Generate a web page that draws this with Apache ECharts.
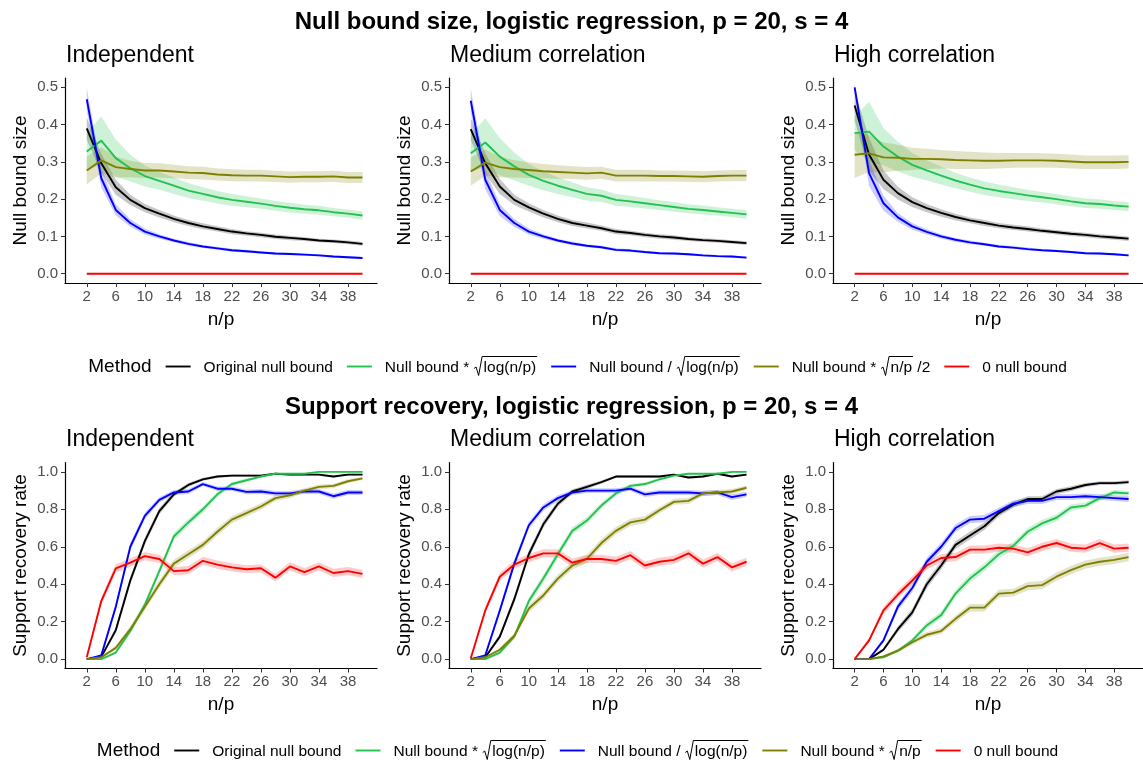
<!DOCTYPE html>
<html>
<head>
<meta charset="utf-8">
<script src="https://cdn.jsdelivr.net/npm/echarts@6/dist/echarts.min.js"></script>
<style>
  html, body { margin: 0; padding: 0; background: #fff; }
  #chart { width: 1143px; height: 763px; }
</style>
</head>
<body>
<div id="chart"></div>
<script>
// ---- sample sizes (n/p) ----
const nOverP = [2,4,6,8,10,12,14,16,18,20,22,24,26,28,30,32,34,36,38,40];
const xTicks = [2,6,10,14,18,22,26,30,34,38];
const sizeTicks = [0,0.1,0.2,0.3,0.4,0.5];
const rateTicks = [0,0.2,0.4,0.6,0.8,1.0];

const methodNames = ['Original null bound','Null bound * sqrt(log(n/p))','Null bound / sqrt(log(n/p))','Null bound * sqrt(n/p)','0 null bound'];
const methodColors = ['#000000','#22C24F','#0000FF','#7F7F00','#FF0000'];
const methodFills = ['rgba(0,0,0,0.22)','rgba(34,194,79,0.22)','rgba(0,0,255,0.2)','rgba(127,127,0,0.22)','rgba(255,0,0,0.2)'];

// ---- Null bound size: Independent ----
const sizeIndOrig    = [0.390,0.296,0.232,0.198,0.176,0.161,0.147,0.136,0.127,0.120,0.113,0.108,0.104,0.099,0.096,0.093,0.089,0.087,0.084,0.080];
const sizeIndLogUp   = [0.328,0.357,0.310,0.283,0.262,0.249,0.236,0.223,0.214,0.205,0.198,0.193,0.188,0.182,0.177,0.173,0.170,0.165,0.161,0.156];
const sizeIndLogDown = [0.468,0.256,0.171,0.136,0.113,0.100,0.089,0.080,0.073,0.068,0.063,0.060,0.057,0.054,0.053,0.051,0.049,0.046,0.044,0.042];
const sizeIndSqrt    = [0.277,0.304,0.286,0.281,0.277,0.277,0.274,0.271,0.270,0.266,0.264,0.263,0.263,0.261,0.259,0.260,0.260,0.261,0.258,0.258];
const sizeIndZero    = [0,0,0,0,0,0,0,0,0,0,0,0,0,0,0,0,0,0,0,0];
const sizeIndOrigCI    = [0.030,0.026,0.020,0.014,0.011,0.010,0.009,0.008,0.008,0.007,0.007,0.006,0.006,0.006,0.006,0.005,0.005,0.005,0.005,0.005];
const sizeIndLogUpCI   = [0.050,0.065,0.050,0.036,0.028,0.024,0.022,0.020,0.018,0.017,0.016,0.015,0.014,0.013,0.013,0.012,0.012,0.011,0.011,0.011];
const sizeIndLogDownCI = [0.030,0.025,0.015,0.010,0.008,0.006,0.005,0.005,0.004,0.004,0.004,0.004,0.003,0.003,0.003,0.003,0.003,0.003,0.003,0.003];
const sizeIndSqrtCI    = [0.037,0.035,0.028,0.022,0.020,0.019,0.018,0.017,0.017,0.016,0.016,0.016,0.016,0.015,0.015,0.015,0.015,0.015,0.015,0.015];
const sizeIndZeroCI    = [0,0,0,0,0,0,0,0,0,0,0,0,0,0,0,0,0,0,0,0];

// ---- Null bound size: Medium correlation ----
const sizeMedOrig    = [0.388,0.296,0.234,0.198,0.178,0.161,0.147,0.136,0.129,0.122,0.113,0.109,0.104,0.100,0.097,0.093,0.090,0.088,0.085,0.082];
const sizeMedLogUp   = [0.323,0.352,0.314,0.288,0.265,0.249,0.236,0.225,0.214,0.209,0.198,0.194,0.189,0.184,0.179,0.174,0.171,0.167,0.163,0.159];
const sizeMedLogDown = [0.464,0.252,0.171,0.136,0.113,0.100,0.089,0.081,0.075,0.071,0.064,0.062,0.058,0.055,0.054,0.052,0.049,0.047,0.046,0.043];
const sizeMedSqrt    = [0.274,0.298,0.286,0.281,0.278,0.275,0.273,0.271,0.269,0.271,0.263,0.263,0.263,0.262,0.262,0.261,0.260,0.262,0.263,0.263];
const sizeMedZero    = [0,0,0,0,0,0,0,0,0,0,0,0,0,0,0,0,0,0,0,0];
const sizeMedOrigCI    = [0.030,0.027,0.020,0.014,0.011,0.010,0.009,0.008,0.008,0.007,0.007,0.006,0.006,0.006,0.006,0.005,0.005,0.005,0.005,0.005];
const sizeMedLogUpCI   = [0.050,0.065,0.050,0.037,0.029,0.025,0.022,0.020,0.018,0.017,0.016,0.015,0.014,0.013,0.013,0.012,0.012,0.011,0.011,0.011];
const sizeMedLogDownCI = [0.032,0.026,0.016,0.011,0.008,0.006,0.005,0.005,0.004,0.004,0.004,0.004,0.003,0.003,0.003,0.003,0.003,0.003,0.003,0.003];
const sizeMedSqrtCI    = [0.038,0.035,0.028,0.023,0.021,0.019,0.018,0.017,0.017,0.016,0.016,0.016,0.016,0.015,0.015,0.015,0.015,0.015,0.015,0.015];
const sizeMedZeroCI    = [0,0,0,0,0,0,0,0,0,0,0,0,0,0,0,0,0,0,0,0];

// ---- Null bound size: High correlation ----
const sizeHighOrig    = [0.451,0.320,0.252,0.216,0.192,0.176,0.163,0.152,0.143,0.136,0.129,0.124,0.120,0.115,0.111,0.107,0.104,0.100,0.097,0.094];
const sizeHighLogUp   = [0.377,0.381,0.341,0.314,0.292,0.277,0.263,0.250,0.239,0.229,0.222,0.216,0.210,0.205,0.200,0.194,0.189,0.187,0.183,0.180];
const sizeHighLogDown = [0.500,0.270,0.189,0.151,0.127,0.112,0.100,0.091,0.084,0.079,0.073,0.070,0.066,0.063,0.061,0.058,0.055,0.054,0.052,0.049];
const sizeHighSqrt    = [0.319,0.323,0.312,0.311,0.308,0.308,0.307,0.305,0.304,0.303,0.303,0.304,0.304,0.304,0.303,0.301,0.299,0.299,0.299,0.300];
const sizeHighZero    = [0,0,0,0,0,0,0,0,0,0,0,0,0,0,0,0,0,0,0,0];
const sizeHighOrigCI    = [0.040,0.045,0.025,0.017,0.013,0.011,0.010,0.009,0.008,0.008,0.007,0.007,0.007,0.006,0.006,0.006,0.006,0.006,0.006,0.006];
const sizeHighLogUpCI   = [0.045,0.080,0.050,0.040,0.032,0.027,0.024,0.021,0.019,0.018,0.017,0.016,0.015,0.014,0.014,0.013,0.013,0.013,0.012,0.012];
const sizeHighLogDownCI = [0.010,0.035,0.020,0.012,0.009,0.007,0.006,0.005,0.005,0.004,0.004,0.004,0.004,0.003,0.003,0.003,0.003,0.003,0.003,0.003];
const sizeHighSqrtCI    = [0.062,0.050,0.040,0.035,0.030,0.027,0.025,0.024,0.023,0.022,0.021,0.020,0.020,0.019,0.019,0.019,0.018,0.018,0.018,0.018];
const sizeHighZeroCI    = [0,0,0,0,0,0,0,0,0,0,0,0,0,0,0,0,0,0,0,0];

// ---- Support recovery rate: Independent ----
const rateIndOrig    = [0.000,0.012,0.155,0.420,0.630,0.790,0.880,0.930,0.960,0.975,0.980,0.980,0.980,0.990,0.985,0.985,0.985,0.975,0.985,0.985];
const rateIndLogUp   = [0.000,0.000,0.035,0.150,0.290,0.470,0.655,0.730,0.800,0.880,0.935,0.955,0.975,0.990,0.990,0.990,1.000,1.000,1.000,1.000];
const rateIndLogDown = [0.000,0.020,0.280,0.600,0.765,0.850,0.890,0.895,0.935,0.910,0.910,0.893,0.895,0.885,0.885,0.895,0.895,0.870,0.890,0.890];
const rateIndSqrt    = [0.000,0.010,0.060,0.160,0.280,0.400,0.510,0.560,0.610,0.680,0.745,0.780,0.815,0.860,0.875,0.900,0.920,0.925,0.950,0.965];
const rateIndZero    = [0.010,0.310,0.485,0.515,0.550,0.535,0.470,0.475,0.525,0.505,0.490,0.480,0.485,0.435,0.495,0.465,0.495,0.460,0.470,0.455];
const rateIndOrigCI    = [0.000,0.005,0.015,0.020,0.020,0.017,0.013,0.011,0.008,0.007,0.006,0.006,0.006,0.005,0.005,0.005,0.005,0.006,0.005,0.005];
const rateIndLogUpCI   = [0.000,0.000,0.008,0.015,0.018,0.020,0.020,0.019,0.017,0.014,0.011,0.009,0.007,0.005,0.005,0.005,0.003,0.003,0.003,0.003];
const rateIndLogDownCI = [0.000,0.006,0.020,0.021,0.018,0.014,0.013,0.013,0.011,0.012,0.012,0.013,0.013,0.013,0.013,0.013,0.013,0.014,0.013,0.013];
const rateIndSqrtCI    = [0.000,0.004,0.011,0.016,0.019,0.021,0.021,0.021,0.020,0.020,0.019,0.018,0.017,0.015,0.014,0.013,0.012,0.012,0.010,0.008];
const rateIndZeroCI    = [0.004,0.020,0.022,0.022,0.022,0.022,0.022,0.022,0.022,0.022,0.022,0.022,0.022,0.021,0.022,0.022,0.022,0.022,0.022,0.022];

// ---- Support recovery rate: Medium correlation ----
const rateMedOrig    = [0.000,0.010,0.120,0.320,0.560,0.720,0.830,0.895,0.920,0.945,0.975,0.975,0.975,0.975,0.985,0.970,0.975,0.990,0.975,0.985];
const rateMedLogUp   = [0.000,0.000,0.035,0.120,0.310,0.430,0.560,0.685,0.740,0.820,0.885,0.925,0.935,0.960,0.980,0.990,0.990,0.990,1.000,1.000];
const rateMedLogDown = [0.000,0.020,0.260,0.510,0.715,0.810,0.860,0.890,0.900,0.900,0.900,0.910,0.880,0.890,0.890,0.890,0.885,0.890,0.865,0.880];
const rateMedSqrt    = [0.000,0.010,0.050,0.125,0.270,0.340,0.430,0.500,0.535,0.620,0.685,0.730,0.745,0.795,0.840,0.845,0.885,0.890,0.895,0.915];
const rateMedZero    = [0.005,0.260,0.440,0.505,0.540,0.565,0.565,0.515,0.535,0.535,0.525,0.555,0.500,0.520,0.530,0.565,0.510,0.545,0.490,0.520];
const rateMedOrigCI    = [0.000,0.005,0.014,0.020,0.021,0.019,0.016,0.012,0.011,0.009,0.007,0.007,0.007,0.007,0.005,0.007,0.007,0.004,0.007,0.005];
const rateMedLogUpCI   = [0.000,0.000,0.008,0.014,0.020,0.021,0.021,0.020,0.019,0.017,0.014,0.011,0.010,0.008,0.006,0.004,0.004,0.004,0.003,0.003];
const rateMedLogDownCI = [0.000,0.006,0.019,0.021,0.019,0.017,0.015,0.013,0.013,0.013,0.013,0.012,0.014,0.013,0.013,0.013,0.014,0.013,0.015,0.014];
const rateMedSqrtCI    = [0.000,0.004,0.010,0.014,0.019,0.020,0.021,0.021,0.021,0.021,0.020,0.019,0.019,0.017,0.016,0.016,0.014,0.013,0.013,0.012];
const rateMedZeroCI    = [0.003,0.019,0.021,0.022,0.022,0.022,0.022,0.022,0.022,0.022,0.022,0.022,0.022,0.022,0.022,0.022,0.022,0.022,0.022,0.022];

// ---- Support recovery rate: High correlation ----
const rateHighOrig    = [0.000,0.000,0.050,0.160,0.250,0.400,0.500,0.610,0.660,0.710,0.780,0.825,0.855,0.855,0.895,0.910,0.930,0.940,0.940,0.945];
const rateHighLogUp   = [0.000,0.000,0.010,0.045,0.100,0.180,0.235,0.350,0.430,0.490,0.560,0.605,0.680,0.725,0.755,0.810,0.820,0.860,0.890,0.885];
const rateHighLogDown = [0.000,0.000,0.100,0.280,0.380,0.520,0.600,0.700,0.745,0.750,0.790,0.830,0.845,0.845,0.865,0.865,0.870,0.865,0.860,0.855];
const rateHighSqrt    = [0.000,0.000,0.015,0.045,0.090,0.130,0.150,0.215,0.275,0.275,0.350,0.355,0.390,0.395,0.440,0.475,0.505,0.520,0.530,0.545];
const rateHighZero    = [0.000,0.100,0.260,0.345,0.420,0.500,0.540,0.545,0.585,0.585,0.595,0.590,0.570,0.600,0.620,0.595,0.590,0.620,0.590,0.595];
const rateHighOrigCI    = [0.000,0.000,0.009,0.016,0.019,0.021,0.022,0.021,0.021,0.020,0.018,0.017,0.015,0.015,0.014,0.013,0.011,0.010,0.010,0.010];
const rateHighLogUpCI   = [0.000,0.000,0.004,0.009,0.013,0.017,0.019,0.021,0.022,0.022,0.022,0.021,0.020,0.019,0.019,0.017,0.016,0.015,0.013,0.013];
const rateHighLogDownCI = [0.000,0.000,0.013,0.020,0.021,0.022,0.022,0.020,0.019,0.019,0.018,0.017,0.016,0.016,0.015,0.015,0.015,0.015,0.015,0.016];
const rateHighSqrtCI    = [0.000,0.000,0.005,0.009,0.013,0.015,0.016,0.018,0.020,0.020,0.021,0.021,0.022,0.022,0.022,0.022,0.022,0.022,0.022,0.022];
const rateHighZeroCI    = [0.000,0.013,0.019,0.021,0.022,0.022,0.022,0.022,0.022,0.022,0.022,0.022,0.022,0.022,0.022,0.022,0.022,0.022,0.022,0.022];

// ---- panel layout ----
const FONT = '"Liberation Sans", Arial, Helvetica, sans-serif';
const colLeft = [65, 449, 833];
const gridWidth = 312;
const rowTop = [78, 462.5];
const rowHeight = [205, 206];
const panelTitles = ['Independent', 'Medium correlation', 'High correlation'];

const panels = [
  { row: 0, col: 0, means: [sizeIndOrig, sizeIndLogUp, sizeIndLogDown, sizeIndSqrt, sizeIndZero], ci: [sizeIndOrigCI, sizeIndLogUpCI, sizeIndLogDownCI, sizeIndSqrtCI, sizeIndZeroCI] },
  { row: 0, col: 1, means: [sizeMedOrig, sizeMedLogUp, sizeMedLogDown, sizeMedSqrt, sizeMedZero], ci: [sizeMedOrigCI, sizeMedLogUpCI, sizeMedLogDownCI, sizeMedSqrtCI, sizeMedZeroCI] },
  { row: 0, col: 2, means: [sizeHighOrig, sizeHighLogUp, sizeHighLogDown, sizeHighSqrt, sizeHighZero], ci: [sizeHighOrigCI, sizeHighLogUpCI, sizeHighLogDownCI, sizeHighSqrtCI, sizeHighZeroCI] },
  { row: 1, col: 0, means: [rateIndOrig, rateIndLogUp, rateIndLogDown, rateIndSqrt, rateIndZero], ci: [rateIndOrigCI, rateIndLogUpCI, rateIndLogDownCI, rateIndSqrtCI, rateIndZeroCI] },
  { row: 1, col: 1, means: [rateMedOrig, rateMedLogUp, rateMedLogDown, rateMedSqrt, rateMedZero], ci: [rateMedOrigCI, rateMedLogUpCI, rateMedLogDownCI, rateMedSqrtCI, rateMedZeroCI] },
  { row: 1, col: 2, means: [rateHighOrig, rateHighLogUp, rateHighLogDown, rateHighSqrt, rateHighZero], ci: [rateHighOrigCI, rateHighLogUpCI, rateHighLogDownCI, rateHighSqrtCI, rateHighZeroCI] }
];

const grids = [], xAxes = [], yAxes = [], series = [];

panels.forEach((p, gi) => {
  grids.push({ left: colLeft[p.col], top: rowTop[p.row], width: gridWidth, height: rowHeight[p.row], containLabel: false });
  xAxes.push({
    type: 'value', gridIndex: gi, min: -1, max: 42,
    name: 'n/p', nameLocation: 'middle', nameGap: 27,
    nameTextStyle: { fontSize: 19, color: '#000', fontFamily: FONT },
    axisLine: { show: true, onZero: false, lineStyle: { color: '#000', width: 1.2 } },
    axisTick: { show: true, length: 4, customValues: xTicks, lineStyle: { color: '#333', width: 1 } },
    axisLabel: { customValues: xTicks, color: '#4D4D4D', fontSize: 15, margin: 6, fontFamily: FONT },
    splitLine: { show: false }
  });
  const isSize = p.row === 0;
  const yt = isSize ? sizeTicks : rateTicks;
  yAxes.push({
    type: 'value', gridIndex: gi,
    min: isSize ? -0.025 : -0.05, max: isSize ? 0.525 : 1.05,
    name: isSize ? 'Null bound size' : 'Support recovery rate',
    nameLocation: 'middle', nameGap: 35,
    nameTextStyle: { fontSize: 19, color: '#000', fontFamily: FONT },
    axisLine: { show: true, onZero: false, lineStyle: { color: '#000', width: 1.2 } },
    axisTick: { show: true, length: 4, customValues: yt, lineStyle: { color: '#333', width: 1 } },
    axisLabel: { customValues: yt, color: '#4D4D4D', fontSize: 15, margin: 7, fontFamily: FONT,
                 formatter: v => v.toFixed(1) },
    splitLine: { show: false }
  });

  // confidence ribbons
  p.means.forEach((m, k) => {
    const hw = p.ci[k];
    if (hw.every(v => v === 0)) return;
    const rows = nOverP.map((x, i) => [x, m[i] - hw[i], m[i] + hw[i]]);
    series.push({
      type: 'custom', xAxisIndex: gi, yAxisIndex: gi, clip: true, silent: true,
      data: rows, encode: { x: 0, y: [1, 2] },
      renderItem: (params, api) => {
        if (params.dataIndex !== 0) return null;
        const upper = rows.map(r => api.coord([r[0], r[2]]));
        const lower = rows.map(r => api.coord([r[0], r[1]])).reverse();
        return { type: 'polygon', shape: { points: upper.concat(lower) }, style: { fill: methodFills[k] } };
      }
    });
  });
  // mean lines
  p.means.forEach((m, k) => {
    series.push({
      type: 'line', name: methodNames[k], xAxisIndex: gi, yAxisIndex: gi,
      data: nOverP.map((x, i) => [x, m[i]]),
      showSymbol: false, symbol: 'none', silent: true, animation: false,
      lineStyle: { color: methodColors[k], width: 1.9 }
    });
  });
});

// ---- text measurement for the hand-laid legend ----
const measureCtx = document.createElement('canvas').getContext('2d');
function textW(str, size) { measureCtx.font = size + 'px ' + FONT; return measureCtx.measureText(str).width; }

function txt(x, y, s, size, opts) {
  opts = opts || {};
  return { type: 'text', x: x, y: y, silent: true,
    style: { text: s, font: (opts.bold ? 'bold ' : '') + size + 'px ' + FONT, fill: opts.color || '#000',
             align: opts.align || 'left', textAlign: opts.align || 'left',
             verticalAlign: 'middle', textVerticalAlign: 'middle' } };
}

const LEG_SIZE = 15.5;
// label parts: plain text or a square-root group
const legendTop = [
  [{ t: 'Original null bound' }],
  [{ t: 'Null bound * ' }, { sqrt: 'log(n/p)' }],
  [{ t: 'Null bound / ' }, { sqrt: 'log(n/p)' }],
  [{ t: 'Null bound * ' }, { sqrt: 'n/p' }, { t: ' /2' }],
  [{ t: '0 null bound' }]
];
const legendBottom = [
  [{ t: 'Original null bound' }],
  [{ t: 'Null bound * ' }, { sqrt: 'log(n/p)' }],
  [{ t: 'Null bound / ' }, { sqrt: 'log(n/p)' }],
  [{ t: 'Null bound * ' }, { sqrt: 'n/p' }],
  [{ t: '0 null bound' }]
];

function partWidth(part) {
  return part.t !== undefined ? textW(part.t, LEG_SIZE) : 10 + textW(part.sqrt, LEG_SIZE) + 1;
}

function buildLegend(cy, items, centerX) {
  const els = [];
  const titleW = textW('Method', 19);
  let total = titleW;
  items.forEach(parts => { total += 14 + 25 + 13 + parts.reduce((a, p) => a + partWidth(p), 0); });
  let x = centerX - total / 2;
  els.push(txt(x, cy, 'Method', 19));
  x += titleW;
  items.forEach((parts, k) => {
    x += 14;
    els.push({ type: 'line', silent: true, shape: { x1: x, y1: cy, x2: x + 25, y2: cy },
               style: { stroke: methodColors[k], lineWidth: 1.9 } });
    x += 25 + 13;
    parts.forEach(part => {
      if (part.t !== undefined) {
        els.push(txt(x, cy + 1, part.t, LEG_SIZE));
        x += textW(part.t, LEG_SIZE);
      } else {
        const innerW = textW(part.sqrt, LEG_SIZE);
        const top = cy - 10, bot = cy + 9;
        els.push({ type: 'polyline', silent: true,
          shape: { points: [[x + 0.5, cy + 2], [x + 2.5, cy + 0.5], [x + 5, bot], [x + 8.5, top], [x + 10 + innerW + 1, top]] },
          style: { stroke: '#000', lineWidth: 1, fill: null } });
        els.push(txt(x + 10, cy + 1, part.sqrt, LEG_SIZE));
        x += 10 + innerW + 1;
      }
    });
  });
  return els;
}

const graphics = [
  txt(571.5, 22, 'Null bound size, logistic regression, p = 20, s = 4', 24, { bold: true, align: 'center' }),
  txt(571.5, 407, 'Support recovery, logistic regression, p = 20, s = 4', 24, { bold: true, align: 'center' })
];
panelTitles.forEach((t, c) => {
  graphics.push(txt(colLeft[c] + 1, 56, t, 23));
  graphics.push(txt(colLeft[c] + 1, 440, t, 23));
});
buildLegend(366.5, legendTop, 577.5).forEach(e => graphics.push(e));
buildLegend(750.5, legendBottom, 577.5).forEach(e => graphics.push(e));

const chart = echarts.init(document.getElementById('chart'), null, { renderer: 'canvas' });
chart.setOption({
  backgroundColor: '#ffffff',
  animation: false,
  textStyle: { fontFamily: FONT },
  grid: grids,
  xAxis: xAxes,
  yAxis: yAxes,
  series: series,
  graphic: { elements: graphics }
});
</script>
</body>
</html>
